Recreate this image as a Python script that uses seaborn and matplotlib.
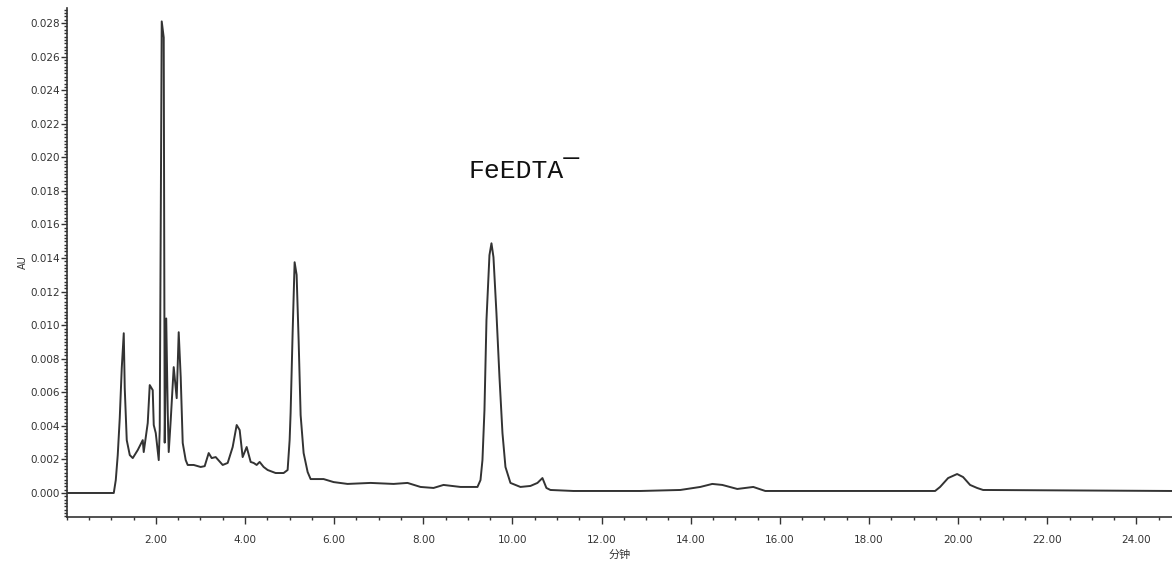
import matplotlib
matplotlib.use('Agg')
import matplotlib.pyplot as plt
import seaborn as sns
import pandas as pd
from matplotlib.ticker import MultipleLocator, FormatStrFormatter

# Retention time (min) and absorbance (AU)
time = [0.0, 1.054, 1.099, 1.143, 1.188, 1.233, 1.278, 1.300, 1.345, 1.413, 1.480,
        1.592, 1.704, 1.726, 1.816, 1.861, 1.928, 1.951, 1.996, 2.063, 2.085,
        2.130, 2.175, 2.197, 2.231, 2.265, 2.287, 2.332, 2.399, 2.466, 2.511,
        2.556, 2.601, 2.668, 2.713, 2.848, 3.004, 3.094, 3.184, 3.251, 3.341,
        3.498, 3.610, 3.722, 3.812, 3.879, 3.946, 4.036, 4.126, 4.193, 4.260,
        4.327, 4.417, 4.507, 4.686, 4.865, 4.955, 5.000, 5.022, 5.067, 5.112,
        5.157, 5.202, 5.247, 5.314, 5.404, 5.471, 5.762, 5.987, 6.300, 6.816,
        7.332, 7.646, 7.937, 8.229, 8.453, 8.834, 9.215, 9.283, 9.327, 9.372,
        9.417, 9.484, 9.529, 9.574, 9.641, 9.709, 9.776, 9.843, 9.955, 10.179,
        10.404, 10.561, 10.673, 10.762, 10.852, 11.368, 12.870, 13.767, 14.215,
        14.484, 14.709, 15.045, 15.404, 15.673, 19.484, 19.596, 19.776, 19.978,
        20.112, 20.269, 20.426, 20.561, 24.8]
au = [0.0, 0.0, 0.00077, 0.00226, 0.00446, 0.00744, 0.00952, 0.00625, 0.00315, 0.00226, 0.00208,
      0.00256, 0.00315, 0.00244, 0.00417, 0.00643, 0.00613, 0.00405, 0.00357, 0.00196, 0.00375,
      0.0281, 0.02714, 0.0030, 0.0104, 0.0048, 0.00244, 0.00435, 0.0075, 0.00565, 0.00958,
      0.0069, 0.00298, 0.00196, 0.00167, 0.00167, 0.00155, 0.0016, 0.00238, 0.00208, 0.00214,
      0.00167, 0.00179, 0.00274, 0.00405, 0.00375, 0.00214, 0.00274, 0.00185, 0.00179, 0.00167,
      0.00185, 0.00155, 0.00137, 0.00119, 0.00119, 0.00137, 0.00315, 0.00476, 0.00952, 0.01375,
      0.0130, 0.0091, 0.00464, 0.00238, 0.00125, 0.00083, 0.00083, 0.00065, 0.00054, 0.0006,
      0.00054, 0.0006, 0.00036, 0.0003, 0.00048, 0.00036, 0.00036, 0.00077, 0.00196, 0.00494,
      0.0103, 0.01417, 0.01488, 0.01405, 0.01071, 0.0069, 0.00357, 0.00155, 0.0006, 0.00036,
      0.00042, 0.0006, 0.00089, 0.0003, 0.00018, 0.00012, 0.00012, 0.00018, 0.00036,
      0.00054, 0.00048, 0.00024, 0.00036, 0.00012, 0.00012, 0.00036, 0.00089, 0.00113,
      0.00095, 0.00048, 0.0003, 0.00018, 0.00012]

x_ticks = [2, 4, 6, 8, 10, 12, 14, 16, 18, 20, 22, 24]
peak_label = 'FeEDTA¯'

df = pd.DataFrame({'time': time, 'au': au})

sns.set_style('ticks')
plt.rcParams['font.family'] = ['DejaVu Sans', 'Noto Sans CJK SC']

fig = plt.figure(figsize=(11.72, 5.70), dpi=100)
ax = fig.add_axes([0.057, 0.093, 0.943, 0.893])

sns.lineplot(data=df, x='time', y='au', ax=ax, color='#333333', linewidth=1.4,
             estimator=None, sort=False)

ax.set_xlim(0, 24.8)
ax.set_ylim(-0.00143, 0.0289)

ax.set_xticks(x_ticks)
ax.xaxis.set_major_formatter(FormatStrFormatter('%.2f'))
ax.xaxis.set_minor_locator(MultipleLocator(0.5))
ax.yaxis.set_major_locator(MultipleLocator(0.002))
ax.yaxis.set_major_formatter(FormatStrFormatter('%.3f'))
ax.yaxis.set_minor_locator(MultipleLocator(0.0002))

ax.tick_params(axis='x', which='major', length=5, width=1, labelsize=7.5, pad=8, colors='#333333')
ax.tick_params(axis='x', which='minor', length=2.5, width=1, colors='#333333')
ax.tick_params(axis='y', which='major', length=4, width=1, labelsize=7.5, pad=1, colors='#333333')
ax.tick_params(axis='y', which='minor', length=2, width=1, colors='#333333')

for side in ['top', 'right']:
    ax.spines[side].set_visible(False)
for side in ['left', 'bottom']:
    ax.spines[side].set_color('#333333')
    ax.spines[side].set_linewidth(1.2)

ax.set_xlabel('分钟', fontsize=8, labelpad=3, color='#333333')
ax.set_ylabel('AU', fontsize=7, labelpad=2, color='#333333')

ax.text(10.27, 0.0192, peak_label, family=['Liberation Mono', 'DejaVu Sans Mono'],
        fontsize=19, ha='center', va='center', color='#111111')

fig.savefig('out.png', dpi=100)
